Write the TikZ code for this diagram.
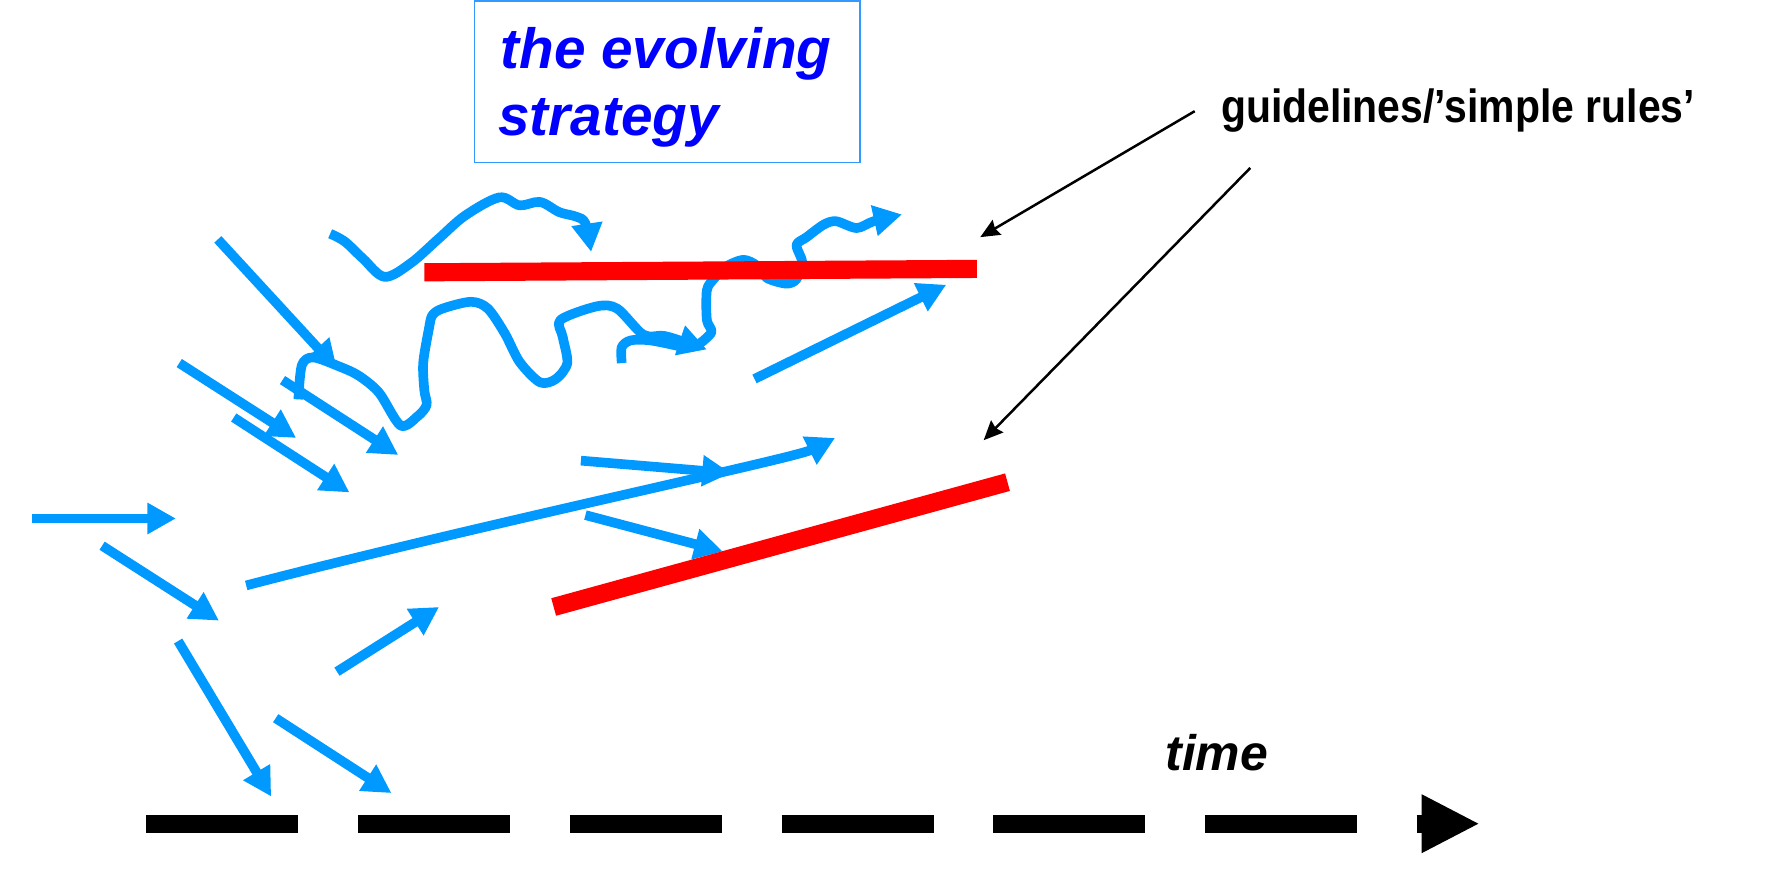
\documentclass[tikz,border=0pt]{standalone}
\usepackage{fontspec}
\setmainfont{Liberation Sans}
\newfontfamily\narrowsans[FakeStretch=0.88]{Liberation Sans}
\usetikzlibrary{arrows.meta}
\definecolor{flow}{RGB}{0,153,255}
\definecolor{titleblue}{RGB}{0,0,255}
\definecolor{boxline}{RGB}{51,153,255}
\definecolor{rulered}{RGB}{255,0,0}
\begin{document}
\begin{tikzpicture}[x=1pt,y=-1pt,
  flowarrow/.style={draw=flow, line width=8.5pt, line join=round, -{Triangle[length=25pt,width=26pt]}},
  flowline/.style={draw=flow, line width=8.5pt, line join=round},
  rulebar/.style={draw=rulered, line width=16pt},
  pointer/.style={draw=black, line width=2.2pt, -{Stealth[length=17pt,width=15pt,inset=2pt]}},
  lbl/.style={anchor=base west, inner sep=0pt}]
\useasboundingbox (0,0) rectangle (1568,770);

% title box
\draw[boxline, line width=1.3pt] (418,1) rectangle (758,143);
\node[lbl, text=titleblue, font=\fontsize{50}{60}\selectfont\bfseries\itshape] (t1) at (441,60) {the evolving};
\node[lbl, text=titleblue, font=\fontsize{50}{60}\selectfont\bfseries\itshape] (t2) at (439,119) {strategy};

% guidelines label and pointers
\node[lbl, font=\fontsize{41}{48}\narrowsans\bfseries] (gl) at (1076,108) {guidelines/’simple rules’};
\coordinate (p1s) at (1053,98);
\coordinate (p1e) at (864,209);
\coordinate (p2s) at (1102,148);
\coordinate (p2e) at (867,388);
\draw[pointer] (p1s) -- (p1e);
\draw[pointer] (p2s) -- (p2e);

% red rules
\coordinate (r1a) at (374,240);
\coordinate (r1b) at (861,237);
\coordinate (r2a) at (488,535);
\coordinate (r2b) at (888,425);

% time axis
\coordinate (ta) at (129,726);
\coordinate (tb) at (1253,726);
\draw[line width=16pt, dash pattern=on 134pt off 52.6pt] (ta) -- (tb);
\fill (1253,700) -- (1303,726) -- (1253,752) -- cycle;
\node[lbl, font=\fontsize{44}{50}\selectfont\bfseries\itshape] (tm) at (1027,679) {time};

% straight blue arrows
\coordinate (a1) at (28,457);  \coordinate (a2) at (155,457);
\coordinate (b1) at (90,481);  \coordinate (b2) at (193,547);
\coordinate (c1) at (157,565); \coordinate (c2) at (239,702);
\coordinate (d1) at (243,633); \coordinate (d2) at (345,699);
\coordinate (e1) at (297,592); \coordinate (e2) at (387,535);
\coordinate (f1) at (192,211); \coordinate (f2) at (297,325);
\coordinate (g1) at (158,320); \coordinate (g2) at (261,386);
\coordinate (h1) at (249,335); \coordinate (h2) at (351,401);
\coordinate (i1) at (206,368); \coordinate (i2) at (308,434);
\coordinate (k1) at (512,406); \coordinate (k2) at (644,417);
\coordinate (l1) at (516,454); \coordinate (l2) at (637,486);
\coordinate (m1) at (665,334); \coordinate (m2) at (834,251);
\coordinate (j1) at (217,516); \coordinate (j2) at (736,386);
\foreach \s in {a,b,c,d,e,f,g,h,i,k,l,m}{
  \draw[flowarrow] (\s1) -- (\s2);
}
\draw[flowarrow] (j1) .. controls (420,463) and (700,404) .. (j2);

% squiggles
\draw[flowarrow] plot[smooth, tension=0.55] coordinates {(291,206) (304,213) (320,228) (339,244) (362,232) (387,210) (410,190) (440,174) (458,181) (476,178) (493,187) (508,191) (516,197) (521,222)};
\draw[flowarrow] plot[smooth, tension=0.5] coordinates {(263,352) (266,322) (276,315) (299,323) (316,331) (334,346) (353,375) (368,367) (376,357) (374,344) (373,320) (378,290) (381,278) (390,272) (415,266) (430,272) (445,294) (458,319) (476,337) (490,334) (500,320) (496,297) (494,282) (526,270) (544,272) (567,295) (585,296) (602,301) (623,308)};
\draw[flowline] plot[smooth, tension=0.5] coordinates {(548,320) (548,306) (556,300) (573,300) (598,305)};
\draw[flowarrow] plot[smooth, tension=0.5] coordinates {(614,305) (627,293) (623,282) (623,256) (629,246) (640,235) (655,229) (667,234) (676,245) (693,250) (702,246) (707,231) (702,216) (711,209) (726,198) (737,195) (755,201) (770,195) (795,189)};

% red bars on top
\draw[rulebar] (r1a) -- (r1b);
\draw[rulebar] (r2a) -- (r2b);
\end{tikzpicture}
\end{document}
